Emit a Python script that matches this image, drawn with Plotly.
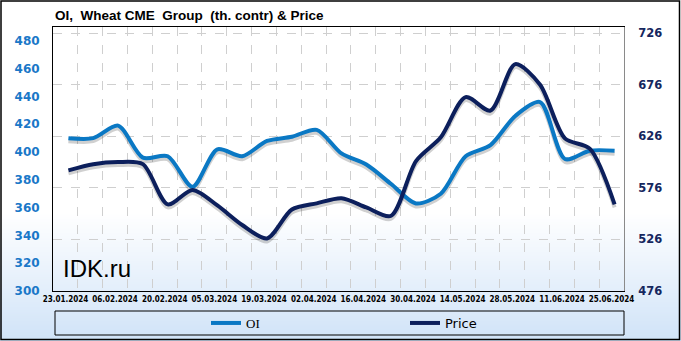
import zlib, struct, base64
import plotly.graph_objects as go

dates = ["23.01.2024", "30.01.2024", "06.02.2024", "13.02.2024", "20.02.2024", "27.02.2024",
         "05.03.2024", "12.03.2024", "19.03.2024", "26.03.2024", "02.04.2024", "09.04.2024",
         "16.04.2024", "23.04.2024", "30.04.2024", "07.05.2024", "14.05.2024", "21.05.2024",
         "28.05.2024", "04.06.2024", "11.06.2024", "18.06.2024", "25.06.2024"]
oi = [410, 410, 419, 396, 397, 375, 402, 397, 408, 411, 416, 399, 391, 377, 363, 370,
      397, 405, 426, 436, 395, 401, 401]
price = [593, 599, 601, 599, 560, 574, 559, 540, 527, 555, 561, 566, 557, 549, 602, 625,
         664, 651, 696, 676, 624, 614, 560]
left_ticks = [300, 320, 340, 360, 380, 400, 420, 440, 460, 480]
right_ticks = [476, 526, 576, 626, 676, 726]

W, H = 681, 341
L, R, T, B = 53, 57, 27, 50
PW, PH = W - L - R, H - T - B

X_RANGE = [-0.5, len(dates) - 0.5]
Y_RANGE = [300, 490]
Y2_RANGE = [476, 732]
SHADOW_PX = 3  # shadow offset in pixels


def px(x):
    return (x - L) / PW


def py(y):
    return (H - B - y) / PH


def shifted(rng, npx, span_px):
    d = (rng[1] - rng[0]) * npx / span_px
    return [rng[0] + d, rng[1] + d]


# vertical gradient background as a PNG
def gradient_png(h):
    rows = []
    top, bot = (255, 255, 255), (208, 227, 248)
    for y in range(h):
        t = 0.0 if y < 212 else (y - 212) / (h - 212)
        rows.append(tuple(int(round(top[i] + (bot[i] - top[i]) * t)) for i in range(3)))
    raw = b"".join(b"\x00" + bytes(c) for c in rows)

    def chunk(tag, data):
        return struct.pack(">I", len(data)) + tag + data + struct.pack(">I", zlib.crc32(tag + data) & 0xffffffff)
    ihdr = struct.pack(">IIBBBBB", 1, h, 8, 2, 0, 0, 0)
    png = b"\x89PNG\r\n\x1a\n" + chunk(b"IHDR", ihdr) + chunk(b"IDAT", zlib.compress(raw)) + chunk(b"IEND", b"")
    return "data:image/png;base64," + base64.b64encode(png).decode()


idx = list(range(len(dates)))
OI_COLOR = "#0a78c4"
PR_COLOR = "#0c1f5c"
SHADOW = "rgba(40,40,40,0.22)"
line_common = dict(width=4, shape="spline", smoothing=0.8)

fig = go.Figure()
# empty traces so the visible base axes (left, right, bottom) get drawn
fig.add_trace(go.Scatter(x=[], y=[], mode="lines", showlegend=False, hoverinfo="skip",
                         xaxis="x", yaxis="y"))
fig.add_trace(go.Scatter(x=[], y=[], mode="lines", showlegend=False, hoverinfo="skip",
                         xaxis="x", yaxis="y2"))
# soft drop shadows (same data, drawn on hidden axes offset by a few pixels)
fig.add_trace(go.Scatter(x=idx, y=oi, mode="lines", showlegend=False, hoverinfo="skip",
                         line=dict(color=SHADOW, **line_common), xaxis="x2", yaxis="y3"))
fig.add_trace(go.Scatter(x=idx, y=price, mode="lines", showlegend=False, hoverinfo="skip",
                         line=dict(color=SHADOW, **line_common), xaxis="x2", yaxis="y4"))
# main series
fig.add_trace(go.Scatter(x=idx, y=oi, name='<span style="font-family:Liberation Serif">OI</span>',
                         mode="lines", line=dict(color=OI_COLOR, **line_common),
                         xaxis="x2", yaxis="y5"))
fig.add_trace(go.Scatter(x=idx, y=price, name="Price", mode="lines",
                         line=dict(color=PR_COLOR, **line_common), xaxis="x2", yaxis="y6"))

hidden = dict(visible=False, showgrid=False, zeroline=False)

fig.update_layout(
    width=W, height=H,
    margin=dict(l=L, r=R, t=T, b=B, autoexpand=False),
    paper_bgcolor="white",
    plot_bgcolor="rgba(0,0,0,0)",
    images=[dict(source=gradient_png(H), xref="paper", yref="paper",
                 x=px(0), y=py(0), sizex=W / PW, sizey=H / PH,
                 xanchor="left", yanchor="top", sizing="stretch", layer="below")],
    title=dict(text="OI,  Wheat CME  Group  (th. contr) & Price", xref="container", x=55 / W,
               xanchor="left", yref="container", y=1 - 15 / H, yanchor="middle",
               font=dict(family="Liberation Sans", size=13.5, color="black", weight="bold")),
    xaxis=dict(range=X_RANGE, tickvals=idx[::2], ticktext=dates[::2],
               tickangle=0, showgrid=False, zeroline=False, showline=True, linecolor="black",
               linewidth=1, mirror=True, ticks="",
               tickfont=dict(family="DejaVu Sans Condensed", size=8, color="black", weight="bold"),
               minor=dict(tickvals=[i + 0.5 for i in idx[:-1]], showgrid=True, griddash="dash",
                          gridcolor="#cfcfcf", gridwidth=1)),
    xaxis2=dict(overlaying="x", range=X_RANGE, **hidden),
    yaxis=dict(range=Y_RANGE, tickvals=left_ticks, showgrid=False, zeroline=False,
               showline=True, linecolor="black", linewidth=1, ticks="", ticklabelstandoff=10,
               tickfont=dict(family="DejaVu Sans", size=12, color="#1a78c8", weight="bold")),
    yaxis2=dict(range=Y2_RANGE, tickvals=right_ticks, overlaying="y", side="right",
                showgrid=True, griddash="dash", gridcolor="#cfcfcf", gridwidth=1, zeroline=False,
                showline=True, linecolor="#8a8a8a", linewidth=1, ticks="", ticklabelstandoff=11,
                tickfont=dict(family="DejaVu Sans", size=11.5, color="#15275e", weight="bold")),
    yaxis3=dict(overlaying="y", range=shifted(Y_RANGE, SHADOW_PX, PH), **hidden),
    yaxis4=dict(overlaying="y", range=shifted(Y2_RANGE, SHADOW_PX, PH), **hidden),
    yaxis5=dict(overlaying="y", range=Y_RANGE, **hidden),
    yaxis6=dict(overlaying="y", range=Y2_RANGE, **hidden),
    showlegend=True,
    legend=dict(orientation="h", x=px(206), xanchor="left", y=py(323), yanchor="middle",
                bgcolor="rgba(0,0,0,0)", borderwidth=0, entrywidth=154, entrywidthmode="pixels",
                font=dict(family="DejaVu Sans", size=13, color="black")),
    shapes=[
        dict(type="rect", xref="paper", yref="paper", x0=px(55), x1=px(624), y0=py(335), y1=py(311),
             line=dict(color="black", width=1), fillcolor="rgba(0,0,0,0)", layer="above"),
        dict(type="rect", xref="paper", yref="paper", x0=px(1), x1=px(679.5), y0=py(339.5), y1=py(1),
             line=dict(color="black", width=1.5), fillcolor="rgba(0,0,0,0)", layer="above"),
    ],
    annotations=[dict(text="IDK.ru", xref="paper", yref="paper", x=px(61), y=py(284),
                      xanchor="left", yanchor="bottom", showarrow=False,
                      font=dict(family="Liberation Sans", size=24, color="black"))],
)
# shift the shadow x-axis so the shadow lands a few pixels to the right
fig.layout.xaxis2.range = [r - (X_RANGE[1] - X_RANGE[0]) * SHADOW_PX / PW for r in X_RANGE]

fig.write_html("out.html")
